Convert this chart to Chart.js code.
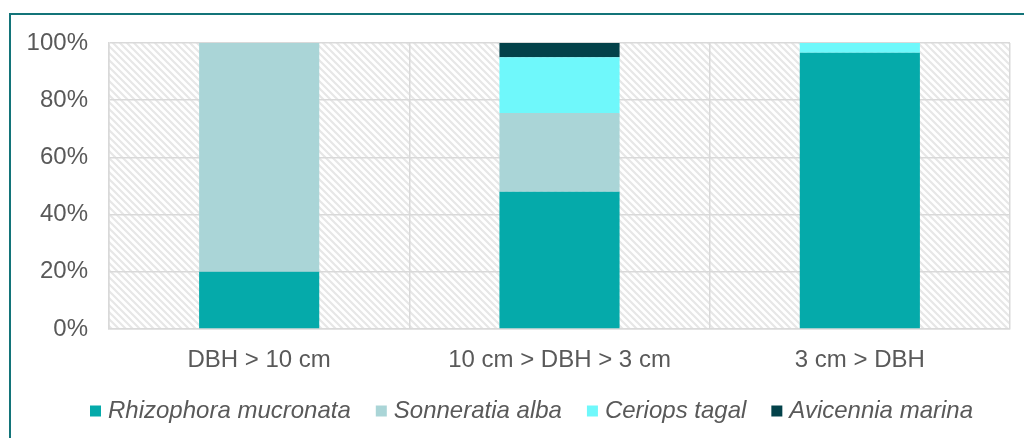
<!DOCTYPE html>
<html>
<head>
<meta charset="utf-8">
<script src="https://cdn.jsdelivr.net/npm/chart.js@4"></script>
<style>
  html, body { margin: 0; padding: 0; background: #ffffff; }
  #wrap { width: 1024px; height: 438px; position: relative; }
</style>
</head>
<body>
<div id="wrap"><canvas id="c" width="1024" height="438"></canvas></div>
<script>
const categories = ['DBH > 10 cm', '10 cm > DBH > 3 cm', '3 cm > DBH'];
const rhizophora = [20, 48, 96.6];
const sonneratia = [80, 27.5, 0];
const ceriops = [0, 19.5, 3.4];
const avicennia = [0, 5, 0];
const seriesNames = ['Rhizophora mucronata', 'Sonneratia alba', 'Ceriops tagal', 'Avicennia marina'];
const yTickStep = 20;

const colors = ['#05AAAA', '#AAD5D7', '#6FF8FB', '#03424A'];
const textColor = '#595959';
const gridColor = '#d9d9d9';
const fontFamily = "'Liberation Sans', Arial, sans-serif";

function makeHatch() {
  const s = 7;
  const t = document.createElement('canvas');
  t.width = s; t.height = s;
  const g = t.getContext('2d');
  g.fillStyle = '#ffffff';
  g.fillRect(0, 0, s, s);
  g.strokeStyle = '#e7e7e7';
  g.lineWidth = 2.2;
  g.beginPath();
  g.moveTo(-s, 0); g.lineTo(s, 2 * s);
  g.moveTo(0, 0); g.lineTo(s, s);
  g.moveTo(0, -s); g.lineTo(2 * s, s);
  g.stroke();
  return t;
}

const bgPlugin = {
  id: 'bgPlugin',
  afterLayout(chart) {
    const dx = 29;
    if (chart.legend) { chart.legend.left += dx; chart.legend.right += dx; }
  },
  beforeDraw(chart) {
    const ctx = chart.ctx;
    const a = chart.chartArea;
    ctx.save();
    ctx.fillStyle = '#ffffff';
    ctx.fillRect(0, 0, chart.width, chart.height);
    ctx.fillStyle = ctx.createPattern(makeHatch(), 'repeat');
    ctx.fillRect(a.left, a.top, a.right - a.left, a.bottom - a.top);
    ctx.strokeStyle = '#137479';
    ctx.lineWidth = 2;
    ctx.beginPath();
    ctx.moveTo(10, 438);
    ctx.lineTo(10, 14);
    ctx.lineTo(1024, 14);
    ctx.stroke();
    ctx.restore();
  }
};

const data = {
  labels: categories,
  datasets: [rhizophora, sonneratia, ceriops, avicennia].map((vals, i) => ({
    label: seriesNames[i],
    data: vals,
    backgroundColor: colors[i],
    borderWidth: 0,
    categoryPercentage: 1.0,
    barPercentage: 0.4
  }))
};

new Chart(document.getElementById('c'), {
  type: 'bar',
  data: data,
  plugins: [bgPlugin],
  options: {
    responsive: false,
    animation: false,
    layout: { padding: { left: 0, right: 14, top: 43, bottom: 5 } },
    plugins: {
      tooltip: { enabled: false },
      legend: {
        position: 'bottom',
        labels: {
          usePointStyle: true,
          pointStyle: 'rect',
          boxWidth: 1,
          boxHeight: 11,
          padding: 30,
          color: textColor,
          font: { family: fontFamily, size: 24, style: 'italic' }
        }
      }
    },
    scales: {
      x: {
        stacked: true,
        grid: { color: gridColor, lineWidth: 1.5, drawTicks: false, offset: true },
        border: { color: gridColor, width: 1.5 },
        ticks: { color: textColor, padding: 17, font: { family: fontFamily, size: 24 } },
        afterFit(scale) { scale.height = 40; }
      },
      y: {
        stacked: true,
        min: 0,
        max: 100,
        grid: { color: gridColor, lineWidth: 1.5, drawTicks: false },
        border: { color: gridColor, width: 1.5 },
        ticks: {
          stepSize: yTickStep,
          color: textColor,
          padding: 21,
          font: { family: fontFamily, size: 24 },
          callback: v => v + '%'
        },
        afterFit(scale) { scale.width = 109; }
      }
    }
  }
});
</script>
</body>
</html>
